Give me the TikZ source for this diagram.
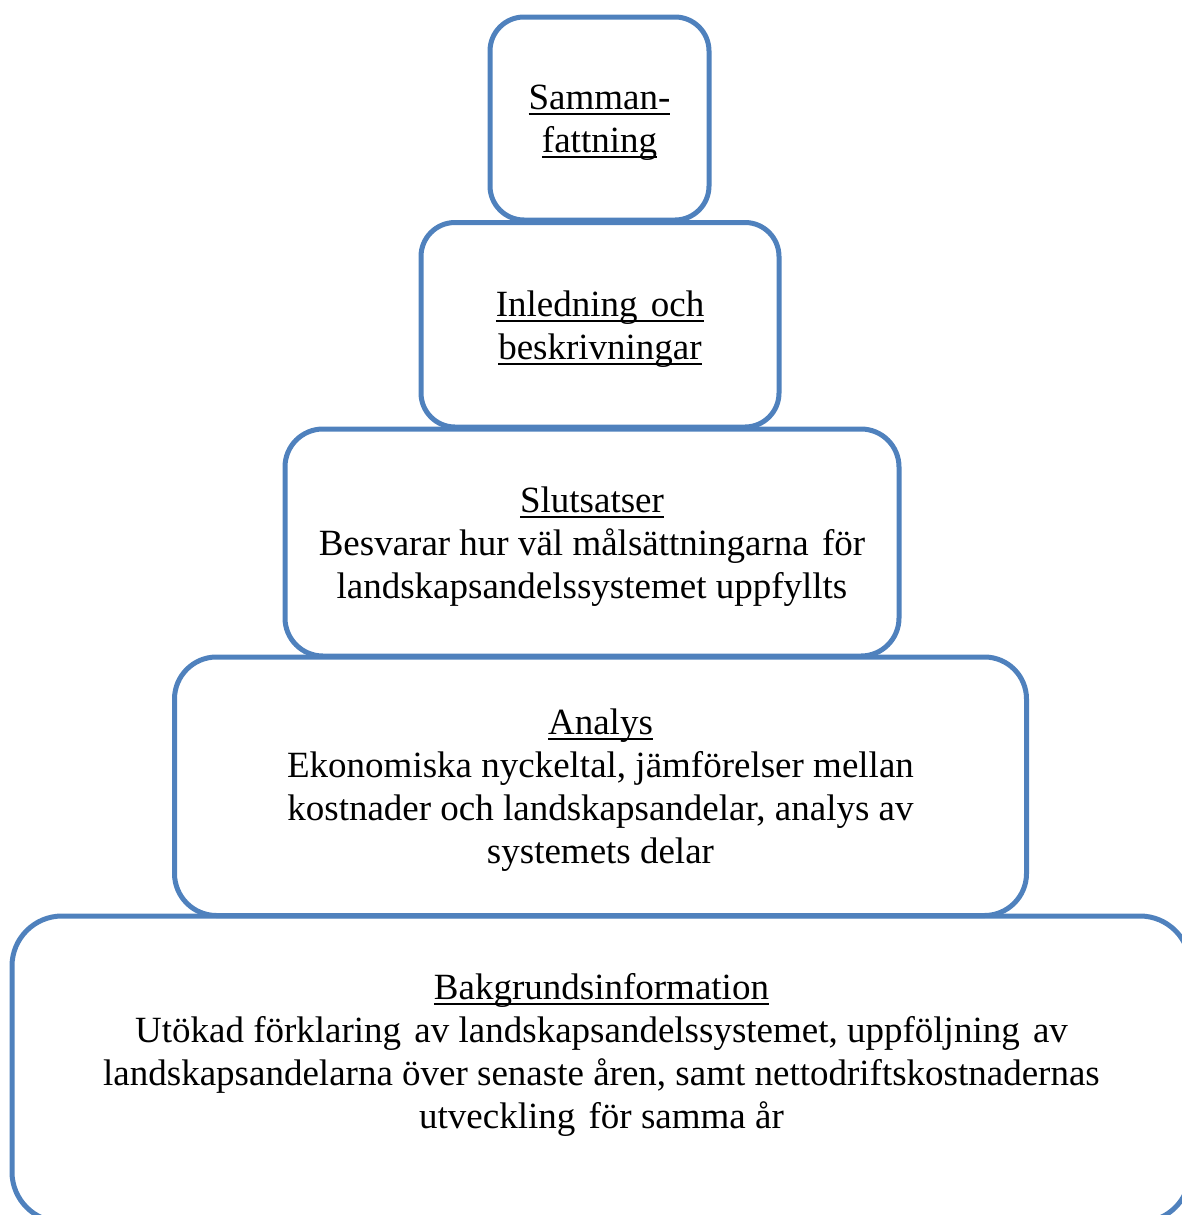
\documentclass[tikz,border=0pt]{standalone}
\usepackage{fontspec}
\setmainfont{Liberation Serif}
\definecolor{boxblue}{RGB}{79,129,189}

\begin{document}
\begin{tikzpicture}[x=0.5pt,y=-0.5pt,
  stepbox/.style={draw=boxblue,line width=2.5pt,rounded corners=#1,inner sep=0pt},
  stepbox/.default=17pt,
  steptext/.style={align=center,inner sep=0pt,yshift=-2pt},
  font={\fontsize{18.5pt}{21.5pt}\selectfont}]
\newcommand{\myheading}[1]{%
\setbox0\hbox{#1}\rlap{\rule[-2.8pt]{\wd0}{0.9pt}}\box0}
\newcommand{\mygap}{\hspace{2pt} }
%Visible part of the page
\clip (0,0) rectangle (1182,1215);
%Centers of the steps of the pyramid
\coordinate (center1) at (599.5,118.5);
\coordinate (center2) at (600,324.75);
\coordinate (center3) at (592,542.5);
\coordinate (center4) at (600.5,786.25);
\coordinate (center5) at (601,1069);
\coordinate (text5) at (601.5,1051);
%Step 1, top
\node [stepbox, minimum width=109.5pt, minimum height=101.5pt] (samman) at (center1) {};
\node [steptext] (sammantext) at (samman.center)
  {\myheading{Samman-}\\\myheading{fattning}};
%Step 2
\node [stepbox, minimum width=179pt, minimum height=102.25pt] (inledning) at (center2) {};
\node [steptext] (inledningtext) at (inledning.center)
  {\myheading{Inledning\mygap och}\\\myheading{beskrivningar}};
%Step 3
\node [stepbox=19pt, minimum width=307pt, minimum height=113.5pt] (slutsatser) at (center3) {};
\node [steptext] (slutsatsertext) at (slutsatser.center)
  {\myheading{Slutsatser}\\Besvarar hur väl målsättningarna\mygap för\\landskapsandelssystemet uppfyllts};
%Step 4
\node [stepbox=21pt, minimum width=426pt, minimum height=129.25pt] (analys) at (center4) {};
\node [steptext] (analystext) at (analys.center)
  {\myheading{Analys}\\Ekonomiska nyckeltal, jämförelser mellan\\kostnader och landskapsandelar, analys av\\systemets delar};
%Step 5, bottom
\node [stepbox=25pt, minimum width=589pt, minimum height=153pt] (bakgrund) at (center5) {};
\node [steptext] (bakgrundtext) at (text5)
  {\myheading{Bakgrundsinformation}\\Utökad förklaring\mygap av landskapsandelssystemet, uppföljning\mygap av\\landskapsandelarna över senaste åren, samt nettodriftskostnadernas\\utveckling\mygap för samma år};
\end{tikzpicture}
\end{document}
